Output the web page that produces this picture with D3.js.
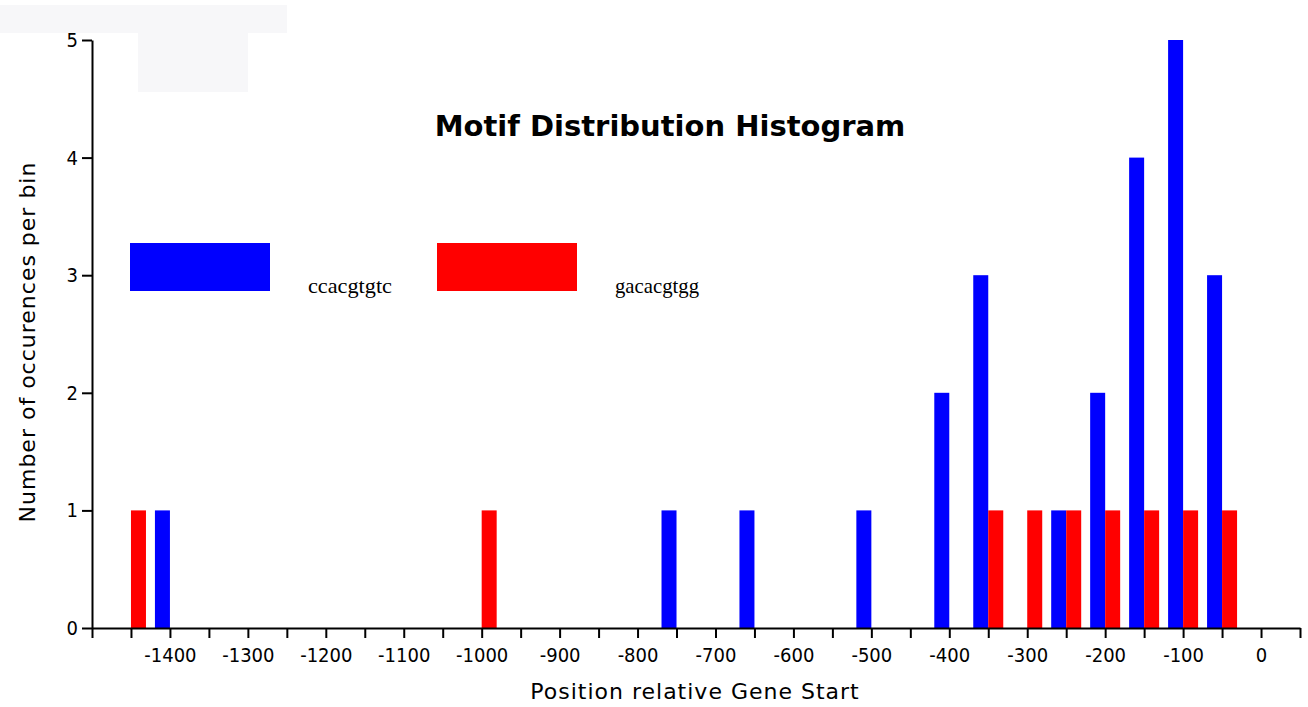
<!DOCTYPE html>
<html lang="en">
<head>
    <meta charset="UTF-8">
    <title>Motif Distribution Histogram</title>
    <script src="https://cdnjs.cloudflare.com/ajax/libs/d3/7.8.5/d3.min.js"></script>
    <style>
        body { margin: 0; background: #fff; }
        .tick text { font-family: "DejaVu Sans Condensed", "DejaVu Sans", sans-serif; font-stretch: condensed; }
    </style>
</head>
<body>
    <div id="chart"></div>
    <script>
        // data: bin positions (bp relative to gene start) and counts
        const blueBins = [-1400, -750, -650, -500, -400, -350, -250, -200, -150, -100, -50]
        const blueCounts = [1, 1, 1, 1, 2, 3, 1, 2, 4, 5, 3]
        const redBins = [-1450, -1000, -350, -300, -250, -200, -150, -100, -50]
        const redCounts = [1, 1, 1, 1, 1, 1, 1, 1, 1]
        const seriesNames = ['ccacgtgtc', 'gacacgtgg']
        const colors = ['#0000ff', '#ff0000']
        const xTicks = d3.range(-1500, 51, 50)
        const yTicks = [0, 1, 2, 3, 4, 5]

        const width = 1308,
            height = 707;
        const svg = d3.select('#chart')
            .append('svg')
            .attr('width', width)
            .attr('height', height)

        // faint grey patches at the top left of the original image
        svg.append('rect').attr('x', 0).attr('y', 5).attr('width', 287).attr('height', 28).attr('fill', '#f7f7f9')
        svg.append('rect').attr('x', 138).attr('y', 30).attr('width', 110).attr('height', 62).attr('fill', '#f7f7f9')

        const x = d3.scaleLinear().domain([-1500, 50]).range([92, 1300])
        const y = d3.scaleLinear().domain([0, 5]).range([628, 40])
        const barW = 15

        // bars: blue ends on its tick, red starts on its tick
        svg.append('g').selectAll('rect')
            .data(blueBins.map((b, i) => ({ pos: b, n: blueCounts[i] })))
            .enter().append('rect')
            .attr('x', d => x(d.pos) - barW)
            .attr('y', d => y(d.n))
            .attr('width', barW)
            .attr('height', d => y(0) - y(d.n))
            .attr('fill', colors[0])

        svg.append('g').selectAll('rect')
            .data(redBins.map((b, i) => ({ pos: b, n: redCounts[i] })))
            .enter().append('rect')
            .attr('x', d => x(d.pos))
            .attr('y', d => y(d.n))
            .attr('width', barW)
            .attr('height', d => y(0) - y(d.n))
            .attr('fill', colors[1])

        // axes
        const xAxis = d3.axisBottom(x)
            .tickValues(xTicks)
            .tickSize(10)
            .tickSizeOuter(0)
            .tickPadding(10)
            .tickFormat(v => (v % 100 === 0 && v > -1500) ? String(v) : '')
        const gx = svg.append('g').attr('transform', `translate(0, ${y(0)})`).call(xAxis)

        const yAxis = d3.axisLeft(y)
            .tickValues(yTicks)
            .tickSize(10)
            .tickSizeOuter(0)
            .tickPadding(4)
            .tickFormat(d3.format('d'))
        const gy = svg.append('g').attr('transform', `translate(${x(-1500)}, 0)`).call(yAxis)

        svg.selectAll('.domain, .tick line').attr('stroke', '#000').attr('stroke-width', 2)
        svg.selectAll('.tick text').attr('font-size', 20).attr('fill', '#000')

        // titles
        svg.append('text')
            .attr('x', 670).attr('y', 136)
            .attr('text-anchor', 'middle')
            .attr('font-family', 'DejaVu Sans, sans-serif')
            .attr('font-weight', 'bold')
            .attr('font-size', 29)
            .text('Motif Distribution Histogram')

        svg.append('text')
            .attr('x', 695).attr('y', 699)
            .attr('text-anchor', 'middle')
            .attr('font-family', 'DejaVu Sans, sans-serif')
            .attr('font-size', 22)
            .attr('letter-spacing', 1)
            .text('Position relative Gene Start')

        svg.append('text')
            .attr('transform', 'translate(35, 342) rotate(-90)')
            .attr('text-anchor', 'middle')
            .attr('font-family', 'DejaVu Sans, sans-serif')
            .attr('font-size', 22)
            .attr('letter-spacing', 1)
            .text('Number of occurences per bin')

        // legend
        const legX = [130, 437]
        const legend = svg.append('g')
        seriesNames.forEach((name, i) => {
            legend.append('rect')
                .attr('x', legX[i]).attr('y', 243)
                .attr('width', 140).attr('height', 48)
                .attr('fill', colors[i])
            legend.append('text')
                .attr('x', legX[i] + 178).attr('y', 293)
                .attr('font-family', 'Liberation Serif, serif')
                .attr('font-size', 22)
                .attr('textLength', 84)
                .attr('lengthAdjust', 'spacingAndGlyphs')
                .text(name)
        })
    </script>
</body>
</html>
